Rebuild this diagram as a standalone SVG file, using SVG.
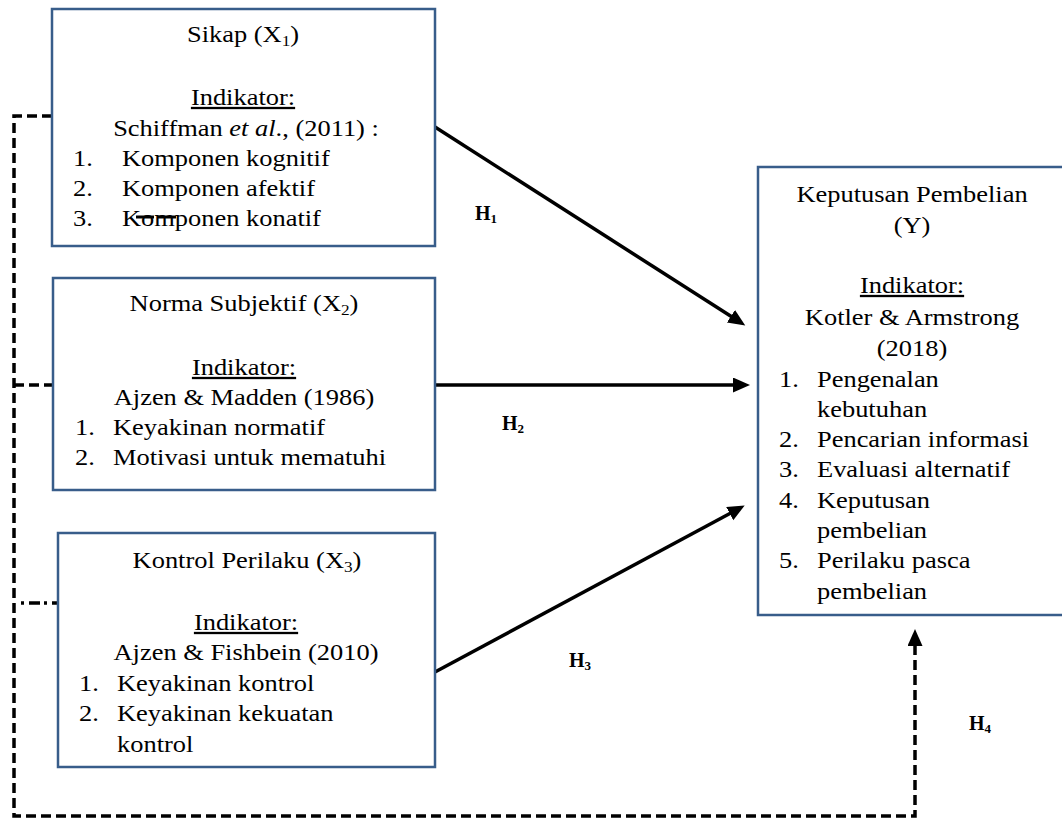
<svg xmlns="http://www.w3.org/2000/svg" width="1062" height="818" viewBox="0 0 1062 818">
<defs>
<style>
.box{fill:#fff;stroke:#385D8A;stroke-width:2.5}
.t{font-family:"Liberation Serif","Times New Roman",serif;font-size:23px;fill:#000}
.c{text-anchor:middle}
.u{text-decoration:underline}
.sub{font-size:15px}
.h{font-family:"Liberation Serif","Times New Roman",serif;font-size:20px;font-weight:bold;fill:#000}
.hs{font-size:13px}
.solid{fill:none;stroke:#000;stroke-width:3.5}
.dash{fill:none;stroke:#000;stroke-width:3.5;stroke-dasharray:10,5}
</style>
<marker id="ah" markerUnits="userSpaceOnUse" markerWidth="18" markerHeight="16" refX="6" refY="7.5" orient="auto">
<path d="M0,0 L17,7.5 L0,15 z" fill="#000"/>
</marker>
</defs>

<g id="connectors">
<path class="dash" d="M52,116 H14 V816 H915 V640" marker-end="url(#ah)"/>
<path class="dash" d="M14,385 H53"/>
<path fill="none" stroke="#000" stroke-width="3.5" stroke-dasharray="3,5,11,4" d="M21,603 H58"/>
<line class="solid" x1="435" y1="127" x2="736" y2="319.5" marker-end="url(#ah)"/>
<line class="solid" x1="435" y1="385" x2="739" y2="385" marker-end="url(#ah)"/>
<line class="solid" x1="435" y1="672" x2="735" y2="510.7" marker-end="url(#ah)"/>
<text class="h" x="475" y="220">H<tspan class="hs" dy="3">1</tspan></text>
<text class="h" x="502" y="430">H<tspan class="hs" dy="3">2</tspan></text>
<text class="h" x="569" y="667">H<tspan class="hs" dy="3">3</tspan></text>
<text class="h" x="969" y="730">H<tspan class="hs" dy="3">4</tspan></text>
</g>

<g id="sikap">
<rect class="box" x="52" y="9" width="383" height="237"/>
<text class="t c" transform="translate(243,42) scale(1.15,1)">Sikap (X<tspan class="sub" dy="4">1</tspan><tspan dy="-4">)</tspan></text>
<text class="t c u" transform="translate(243,105) scale(1.15,1)">Indikator:</text>
<text class="t c" transform="translate(246,136) scale(1.15,1)">Schiffman <tspan font-style="italic">et al</tspan>., (2011) :</text>
<text class="t" transform="translate(73,166) scale(1.15,1)">1.</text>
<text class="t" transform="translate(122,166) scale(1.15,1)">Komponen kognitif</text>
<text class="t" transform="translate(73,196) scale(1.15,1)">2.</text>
<text class="t" transform="translate(122,196) scale(1.15,1)">Komponen afektif</text>
<text class="t" transform="translate(73,226) scale(1.15,1)">3.</text>
<text class="t" transform="translate(122,226) scale(1.15,1)">Komponen konatif</text>
<path fill="none" stroke="#000" stroke-width="3" stroke-dasharray="18,4" d="M136,217 H176"/>
</g>

<g id="norma">
<rect class="box" x="53" y="278" width="382" height="212"/>
<text class="t c" transform="translate(244,311) scale(1.15,1)">Norma Subjektif (X<tspan class="sub" dy="4">2</tspan><tspan dy="-4">)</tspan></text>
<text class="t c u" transform="translate(244,375) scale(1.15,1)">Indikator:</text>
<text class="t c" transform="translate(244,405) scale(1.15,1)">Ajzen &amp; Madden (1986)</text>
<text class="t" transform="translate(75,435) scale(1.15,1)">1.</text>
<text class="t" transform="translate(113,435) scale(1.15,1)">Keyakinan normatif</text>
<text class="t" transform="translate(75,465) scale(1.15,1)">2.</text>
<text class="t" transform="translate(113,465) scale(1.15,1)">Motivasi untuk mematuhi</text>
</g>

<g id="kontrol">
<rect class="box" x="58" y="533" width="377" height="234"/>
<text class="t c" transform="translate(247,568) scale(1.15,1)">Kontrol Perilaku (X<tspan class="sub" dy="4">3</tspan><tspan dy="-4">)</tspan></text>
<text class="t c u" transform="translate(246,630) scale(1.15,1)">Indikator:</text>
<text class="t c" transform="translate(246,660) scale(1.15,1)">Ajzen &amp; Fishbein (2010)</text>
<text class="t" transform="translate(79,691) scale(1.15,1)">1.</text>
<text class="t" transform="translate(117,691) scale(1.15,1)">Keyakinan kontrol</text>
<text class="t" transform="translate(79,721) scale(1.15,1)">2.</text>
<text class="t" transform="translate(117,721) scale(1.15,1)">Keyakinan kekuatan</text>
<text class="t" transform="translate(117,752) scale(1.15,1)">kontrol</text>
</g>

<g id="keputusan">
<rect class="box" x="758" y="167" width="310" height="448"/>
<text class="t c" transform="translate(912,202) scale(1.15,1)">Keputusan Pembelian</text>
<text class="t c" transform="translate(912,233) scale(1.15,1)">(Y)</text>
<text class="t c u" transform="translate(912,293) scale(1.15,1)">Indikator:</text>
<text class="t c" transform="translate(912,325) scale(1.15,1)">Kotler &amp; Armstrong</text>
<text class="t c" transform="translate(912,356) scale(1.15,1)">(2018)</text>
<text class="t" transform="translate(779,387) scale(1.15,1)">1.</text>
<text class="t" transform="translate(817,387) scale(1.15,1)">Pengenalan</text>
<text class="t" transform="translate(817,417) scale(1.15,1)">kebutuhan</text>
<text class="t" transform="translate(779,447) scale(1.15,1)">2.</text>
<text class="t" transform="translate(817,447) scale(1.15,1)">Pencarian informasi</text>
<text class="t" transform="translate(779,477) scale(1.15,1)">3.</text>
<text class="t" transform="translate(817,477) scale(1.15,1)">Evaluasi alternatif</text>
<text class="t" transform="translate(779,508) scale(1.15,1)">4.</text>
<text class="t" transform="translate(817,508) scale(1.15,1)">Keputusan</text>
<text class="t" transform="translate(817,538) scale(1.15,1)">pembelian</text>
<text class="t" transform="translate(779,568) scale(1.15,1)">5.</text>
<text class="t" transform="translate(817,568) scale(1.15,1)">Perilaku pasca</text>
<text class="t" transform="translate(817,599) scale(1.15,1)">pembelian</text>
</g>
</svg>
